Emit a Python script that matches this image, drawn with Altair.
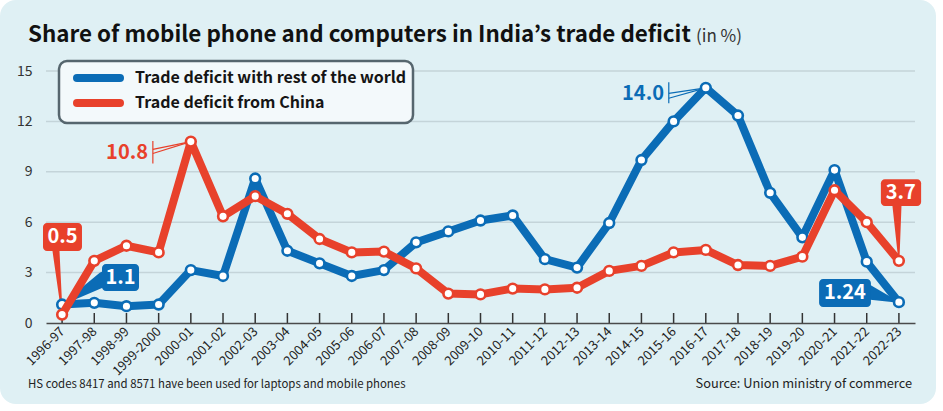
import altair as alt
import pandas as pd

# ---- data -------------------------------------------------------------
years = ["1996-97", "1997-98", "1998-99", "1999-2000", "2000-01", "2001-02",
         "2002-03", "2003-04", "2004-05", "2005-06", "2006-07", "2007-08",
         "2008-09", "2009-10", "2010-11", "2011-12", "2012-13", "2013-14",
         "2014-15", "2015-16", "2016-17", "2017-18", "2018-19", "2019-20",
         "2020-21", "2021-22", "2022-23"]
world = [1.1, 1.2, 1.0, 1.1, 3.15, 2.8, 8.6, 4.3, 3.55, 2.8, 3.15, 4.8, 5.45,
         6.1, 6.4, 3.8, 3.3, 5.95, 9.7, 12.0, 14.0, 12.35, 7.75, 5.1, 9.1,
         3.65, 1.24]
china = [0.5, 3.7, 4.6, 4.2, 10.8, 6.35, 7.55, 6.5, 5.0, 4.2, 4.25, 3.25, 1.75,
         1.7, 2.05, 2.0, 2.1, 3.1, 3.4, 4.2, 4.35, 3.45, 3.4, 3.95, 7.9, 6.0,
         3.7]
series_names = ["Trade deficit with rest of the world", "Trade deficit from China"]
series_colors = ["#0b6cb6", "#e8412b"]
y_ticks = [0, 3, 6, 9, 12, 15]
grid_values = [3, 6, 9, 12, 15]

title_text = "Share of mobile phone and computers in India\u2019s trade deficit"
unit_text = "(in %)"
note_text = "HS codes 8417 and 8571 have been used for laptops and mobile phones"
source_text = "Source: Union ministry of commerce"

# ---- styling ------------------------------------------------------------
FONT = "'Noto Sans CJK JP', 'DejaVu Sans Condensed', sans-serif"
BG = "#dff0f4"
W, H = 869, 252
PAD = {"left": 46, "top": 71, "right": 28, "bottom": 88}
BLUE, RED = series_colors

rows = []
for name, vals in zip(series_names, [world, china]):
    for i, v in enumerate(vals):
        rows.append({"idx": i, "year": years[i], "series": name, "value": v})
df = pd.DataFrame(rows)
one = pd.DataFrame({"k": [0]})

label_expr = "[" + ",".join("'%s'" % y for y in years) + "][datum.value]"

x_enc = alt.X(
    "idx:Q",
    scale=alt.Scale(domain=[-0.5, len(years) - 0.5], nice=False, zero=False),
    axis=alt.Axis(values=list(range(len(years))), labelExpr=label_expr,
                  labelAngle=-45, labelAlign="right", labelBaseline="middle",
                  labelFont=FONT, labelFontSize=13, labelColor="#222",
                  labelPadding=6, ticks=False, tickSize=0, labelOverlap=False,
                  labelFlush=False, domainColor="#4a4a4a", domainWidth=1.5,
                  grid=False, title=None, zindex=1),
)
y_enc = alt.Y(
    "value:Q",
    scale=alt.Scale(domain=[0, 15], nice=False, zero=True),
    axis=alt.Axis(values=y_ticks, grid=False, domain=False, ticks=False,
                  tickSize=0, labelPadding=14, labelFont=FONT, labelFontSize=14,
                  labelColor="#333", title=None, zindex=1),
)

# rounded background panel
panel = alt.Chart(one).mark_rect(fill=BG, cornerRadius=16).encode(
    x=alt.value(-PAD["left"]), x2=alt.value(890),
    y=alt.value(-PAD["top"]), y2=alt.value(333))

grid = alt.Chart(pd.DataFrame({"value": grid_values})).mark_rule(
    color="#c4d4d9", strokeWidth=1.5).encode(
    y=y_enc, x=alt.value(0), x2=alt.value(W))

# small upward ticks on the category axis
ticks = alt.Chart(pd.DataFrame({"idx": list(range(len(years)))})).mark_rule(
    color="#333", strokeWidth=1.5).encode(
    x=x_enc, y=alt.value(H), y2=alt.value(H - 10))

# ---- callout pointers and brackets --------------------------------------
ptr = pd.DataFrame([
    {"ptr": "a", "ord": 0, "idx": -0.19, "value": 4.3, "w": 7, "col": RED},
    {"ptr": "a", "ord": 1, "idx": 0, "value": china[0], "w": 1, "col": RED},
    {"ptr": "b", "ord": 0, "idx": 1.30, "value": 2.62, "w": 15, "col": BLUE},
    {"ptr": "b", "ord": 1, "idx": 0, "value": world[0], "w": 1, "col": BLUE},
    {"ptr": "c", "ord": 0, "idx": 25.94, "value": 6.96, "w": 9, "col": RED},
    {"ptr": "c", "ord": 1, "idx": 26, "value": china[-1], "w": 1, "col": RED},
    {"ptr": "d", "ord": 0, "idx": 25.04, "value": 1.84, "w": 15, "col": BLUE},
    {"ptr": "d", "ord": 1, "idx": 26, "value": world[-1], "w": 1, "col": BLUE},
])
pointers = alt.Chart(ptr).mark_trail().encode(
    x=x_enc, y=y_enc,
    size=alt.Size("w:Q", scale=None, legend=None),
    color=alt.Color("col:N", scale=None),
    detail="ptr:N", order="ord:Q")

brk = pd.DataFrame([
    {"seg": "r1", "ord": 0, "idx": 2.82, "value": 10.84, "col": RED},
    {"seg": "r1", "ord": 1, "idx": 2.82, "value": 9.49, "col": RED},
    {"seg": "r2", "ord": 0, "idx": 2.82, "value": 10.33, "col": RED},
    {"seg": "r2", "ord": 1, "idx": 4, "value": china[4], "col": RED},
    {"seg": "r3", "ord": 0, "idx": 2.82, "value": 10.09, "col": RED},
    {"seg": "r3", "ord": 1, "idx": 4, "value": china[4], "col": RED},
    {"seg": "b1", "ord": 0, "idx": 18.85, "value": 14.33, "col": BLUE},
    {"seg": "b1", "ord": 1, "idx": 18.85, "value": 13.08, "col": BLUE},
    {"seg": "b2", "ord": 0, "idx": 18.85, "value": 13.67, "col": BLUE},
    {"seg": "b2", "ord": 1, "idx": 20, "value": world[20], "col": BLUE},
    {"seg": "b3", "ord": 0, "idx": 18.85, "value": 13.38, "col": BLUE},
    {"seg": "b3", "ord": 1, "idx": 20, "value": world[20], "col": BLUE},
])
brackets = alt.Chart(brk).mark_line(strokeWidth=1.2).encode(
    x=x_enc, y=y_enc, color=alt.Color("col:N", scale=None),
    detail="seg:N", order="ord:Q")

# ---- series lines and markers ------------------------------------------
series_layers = []
for name, col in zip(series_names, series_colors):
    sub = df[df["series"] == name]
    series_layers.append(alt.Chart(sub).mark_line(
        strokeWidth=8, strokeJoin="round", strokeCap="round", color=col).encode(
        x=x_enc, y=y_enc))
    series_layers.append(alt.Chart(sub).mark_circle(
        fill="white", stroke=col, strokeWidth=2.6, size=95, opacity=1).encode(
        x=x_enc, y=y_enc))

# ---- value callouts -----------------------------------------------------
boxes_df = pd.DataFrame([
    {"idx": -0.593, "idx2": 0.618, "value": 4.28, "value2": 5.95, "col": RED},
    {"idx": 1.24, "idx2": 2.39, "value": 1.90, "value2": 3.51, "col": BLUE},
    {"idx": 25.44, "idx2": 26.69, "value": 6.96, "value2": 8.56, "col": RED},
    {"idx": 23.52, "idx2": 25.13, "value": 0.95, "value2": 2.62, "col": BLUE},
])
boxes = alt.Chart(boxes_df).mark_rect(cornerRadius=4).encode(
    x=x_enc, x2="idx2:Q", y=y_enc, y2="value2:Q",
    color=alt.Color("col:N", scale=None))

box_text_df = pd.DataFrame([
    {"idx": 0.012, "value": 5.11, "label": str(china[0])},
    {"idx": 1.815, "value": 2.70, "label": str(world[0])},
    {"idx": 26.06, "value": 7.76, "label": str(china[-1])},
    {"idx": 24.32, "value": 1.78, "label": str(world[-1])},
])
box_text = alt.Chart(box_text_df).mark_text(
    color="white", font=FONT, fontWeight="bold", fontSize=20,
    baseline="middle", align="center").encode(x=x_enc, y=y_enc, text="label:N")

free_text_df = pd.DataFrame([
    {"idx": 2.67, "value": 10.11, "label": "%.1f" % china[4], "col": RED},
    {"idx": 18.70, "value": 13.61, "label": "%.1f" % world[20], "col": BLUE},
])
free_text = alt.Chart(free_text_df).mark_text(
    font=FONT, fontWeight="bold", fontSize=20, baseline="middle",
    align="right").encode(x=x_enc, y=y_enc, text="label:N",
                          color=alt.Color("col:N", scale=None))

# ---- legend box ----------------------------------------------------------
legend_box = alt.Chart(one).mark_rect(
    fill="#f3f9fb", stroke="#56666e", strokeWidth=2.5, cornerRadius=8).encode(
    x=alt.value(13), x2=alt.value(367), y=alt.value(-10), y2=alt.value(52))
leg_df = pd.DataFrame({"name": series_names, "col": series_colors,
                       "row": list(range(len(series_names)))})
leg_base = alt.Chart(leg_df).transform_calculate(py="7 + 25 * datum.row")
legend_lines = leg_base.mark_rule(strokeWidth=8, strokeCap="round").encode(
    x=alt.value(31), x2=alt.value(74), y=alt.Y("py:Q", scale=None),
    color=alt.Color("col:N", scale=None))
legend_text = leg_base.mark_text(
    font=FONT, fontWeight="bold", fontSize=16, color="#151515",
    align="left", baseline="middle").encode(
    x=alt.value(89), y=alt.Y("py:Q", scale=None), text="name:N")

# ---- title and footer ---------------------------------------------------
title = alt.Chart(one).mark_text(
    text=title_text, font=FONT, fontWeight="bold", fontSize=22.4,
    color="#111", align="left", baseline="alphabetic").encode(
    x=alt.value(-18), y=alt.value(-29))
unit = alt.Chart(one).mark_text(
    text=unit_text, font=FONT, fontSize=17, color="#333",
    align="left", baseline="alphabetic").encode(
    x=alt.value(650), y=alt.value(-29))
note = alt.Chart(one).mark_text(
    text=note_text, font=FONT, fontSize=11.4, color="#222",
    align="left", baseline="alphabetic").encode(
    x=alt.value(-18), y=alt.value(317))
source = alt.Chart(one).mark_text(
    text=source_text, font=FONT, fontSize=12.8, color="#222",
    align="right", baseline="alphabetic").encode(
    x=alt.value(866), y=alt.value(317))

chart = alt.layer(
    panel, grid, ticks, pointers, brackets, *series_layers,
    boxes, box_text, free_text, legend_box, legend_lines, legend_text,
    title, unit, note, source,
).properties(
    width=W, height=H, padding=PAD,
    autosize=alt.AutoSizeParams(type="none"), background="white",
).configure_view(stroke=None)

chart.save("out.html", embed_options={"renderer": "svg", "actions": False})
